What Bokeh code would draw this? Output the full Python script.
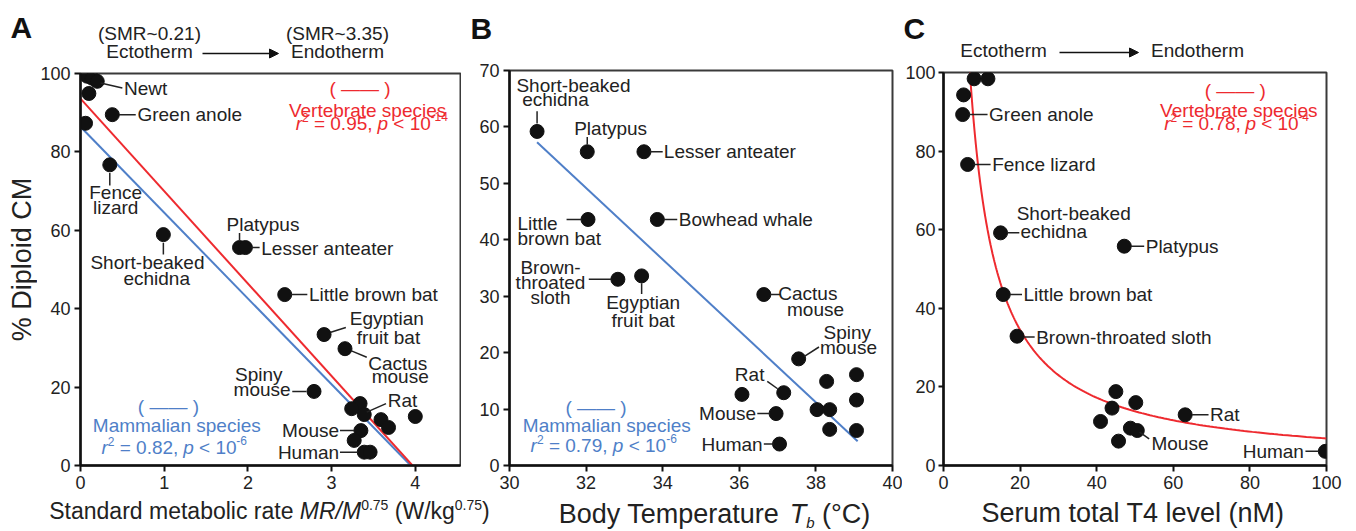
import math
import numpy as np
from bokeh.plotting import figure
from bokeh.models import Label, Arrow, NormalHead, FixedTicker, Range1d
from bokeh.layouts import row, column
from bokeh.embed import file_html
from bokeh.resources import INLINE

FONT = "Liberation Sans"
TXT = "#222222"
RED = "#ee2a2f"
BLUE = "#4f7fc8"

# ---------------- data ----------------
# Panel A: standard metabolic rate vs % diploid CM
smr = [0.08, 0.14, 0.20, 0.10, 0.06, 0.38, 0.35, 0.99, 1.90, 1.97, 2.44, 2.91,
       3.16, 2.79, 3.34, 3.24, 3.39, 3.59, 3.68, 4.00, 3.35, 3.27, 3.39, 3.46]
smr_pct = [99.3, 98.8, 98.0, 94.9, 87.3, 89.5, 76.7, 58.9, 55.6, 55.6, 43.6, 33.4,
           29.8, 18.9, 15.8, 14.5, 13.0, 11.7, 9.7, 12.5, 8.9, 6.4, 3.4, 3.4]
vert_smr_fit = (93.6, -23.6)   # intercept, slope
mamm_smr_fit = (86.4, -21.9)

# Panel B: body temperature vs % diploid CM
tb = [30.72, 32.03, 33.51, 32.05, 33.86, 32.83, 33.45, 36.64, 37.55, 37.16,
      36.07, 36.96, 37.05, 38.03, 38.36, 38.28, 38.36, 39.06, 39.06, 39.06]
tb_pct = [59.2, 55.6, 55.6, 43.6, 43.6, 33.0, 33.6, 30.3, 18.9, 12.9,
          12.6, 9.2, 3.8, 9.9, 9.9, 14.9, 6.4, 16.1, 11.6, 6.2]
mamm_tb_fit = (251.8, -6.332)
mamm_tb_span = (30.72, 39.09)

# Panel C: serum total T4 vs % diploid CM
t4 = [8.0, 11.6, 5.25, 5.0, 6.3, 14.9, 47.2, 15.6, 19.2, 45.0, 44.0, 50.2,
      41.0, 63.1, 48.8, 50.6, 45.7, 99.7]
t4_pct = [98.4, 98.4, 94.3, 89.3, 76.6, 59.2, 55.8, 43.5, 32.9, 18.8, 14.6, 16.0,
          11.2, 12.9, 9.5, 8.9, 6.2, 3.6]
vert_t4_fit = (690.0, -1.0)  # y = a * x^b

ticks_a_x = [0, 1, 2, 3, 4]
ticks_a_y = [0, 20, 40, 60, 80, 100]
ticks_b_x = [30, 32, 34, 36, 38, 40]
ticks_b_y = [0, 10, 20, 30, 40, 50, 60, 70]
ticks_c_x = [0, 20, 40, 60, 80, 100]
ticks_c_y = [0, 20, 40, 60, 80, 100]

# ---------------- text metrics (Arial / Liberation Sans) ----------------
W = {' ': 278, '%': 889, '(': 333, ')': 333, ',': 278, '-': 333, '.': 278, '/': 278,
     '<': 584, '=': 584, '~': 584, '°': 400, '—': 1000,
     'A': 667, 'B': 667, 'C': 722, 'D': 722, 'E': 667, 'F': 611, 'G': 778, 'H': 722,
     'I': 278, 'L': 556, 'M': 833, 'N': 722, 'P': 667, 'R': 722, 'S': 667, 'T': 611,
     'V': 667, 'W': 944,
     'a': 556, 'b': 556, 'c': 500, 'd': 556, 'e': 556, 'f': 278, 'g': 556, 'h': 556,
     'i': 222, 'j': 222, 'k': 500, 'l': 222, 'm': 833, 'n': 556, 'o': 556, 'p': 556,
     'q': 556, 'r': 333, 's': 500, 't': 278, 'u': 556, 'v': 500, 'w': 722, 'x': 500,
     'y': 500, 'z': 500}


def tw(s, size):
    return sum(W.get(ch, 556) for ch in s) * size / 1000.0


# ---------------- layout pieces ----------------
MID_B = 496
PAGE_W = 1356
PAGE_H = 531


class Strip:
    """A text-only figure whose data coordinates equal page pixels."""
    def __init__(self, x0, x1, y0, y1):
        self.fig = figure(width=x1 - x0, height=y1 - y0,
                          x_range=Range1d(x0, x1), y_range=Range1d(y1, y0),
                          output_backend="svg", toolbar_location=None,
                          x_axis_location=None, y_axis_location=None,
                          min_border_left=0, min_border_right=0,
                          min_border_top=0, min_border_bottom=0)
        self.fig.outline_line_color = None
        self.fig.grid.visible = False
        self.fig.background_fill_color = "white"
        self.fig.border_fill_color = "white"

    def to_data(self, px, py):
        return px, py


class Panel:
    def __init__(self, L, R, T, B, xr, yr, cl, cr, ct):
        self.L, self.R, self.T, self.B = L, R, T, B
        self.xr, self.yr = xr, yr
        self.fig = figure(width=cr - cl, height=MID_B - ct,
                          x_range=Range1d(*xr), y_range=Range1d(*yr),
                          output_backend="svg", toolbar_location=None,
                          min_border_left=L - cl, min_border_right=cr - R,
                          min_border_top=T - ct, min_border_bottom=MID_B - B)
        p = self.fig
        p.xgrid.visible = False
        p.ygrid.visible = False
        p.outline_line_color = "#3a3a3a"
        p.outline_line_width = 2
        p.background_fill_color = "white"
        p.border_fill_color = "white"
        for ax in (p.xaxis[0], p.yaxis[0]):
            ax.axis_line_width = 2.5
            ax.axis_line_color = "#111111"
            ax.major_tick_out = 6
            ax.major_tick_in = 0
            ax.minor_tick_out = 0
            ax.minor_tick_in = 0
            ax.major_tick_line_width = 2
            ax.major_tick_line_color = "#111111"
            ax.major_label_text_font = FONT
            ax.major_label_text_font_size = "18px"
            ax.major_label_text_color = TXT
            ax.major_label_standoff = 4

    def to_data(self, px, py):
        x0, x1 = self.xr
        y0, y1 = self.yr
        return (x0 + (px - self.L) / (self.R - self.L) * (x1 - x0),
                y0 + (self.B - py) / (self.B - self.T) * (y1 - y0))

    def to_page(self, x, y):
        x0, x1 = self.xr
        y0, y1 = self.yr
        return (self.L + (x - x0) / (x1 - x0) * (self.R - self.L),
                self.B - (y - y0) / (y1 - y0) * (self.B - self.T))


TOPA = Strip(0, 461, 0, 62)
TOPB = Strip(461, 902, 0, 56)
TOPC = Strip(902, PAGE_W, 0, 61)
YL = Strip(0, 37, 62, MID_B)
BOT = Strip(0, PAGE_W, MID_B, PAGE_H)
PA = Panel(78, 460, 73, 465, (0, 4.54), (0, 100), 37, 461, 62)
PB = Panel(509, 892, 70, 465, (30, 40), (0, 70), 461, 902, 56)
PC = Panel(939, 1326, 72, 465, (0, 100), (0, 100), 902, PAGE_W, 61)

PA.fig.xaxis.ticker = FixedTicker(ticks=ticks_a_x)
PA.fig.yaxis.ticker = FixedTicker(ticks=ticks_a_y)
PB.fig.xaxis.ticker = FixedTicker(ticks=ticks_b_x)
PB.fig.yaxis.ticker = FixedTicker(ticks=ticks_b_y)
PC.fig.xaxis.ticker = FixedTicker(ticks=ticks_c_x)
PC.fig.yaxis.ticker = FixedTicker(ticks=ticks_c_y)
PC.fig.yaxis.major_tick_out = 5
PC.fig.yaxis.major_label_standoff = 3


def label(target, px, py, text, size=19, align="left", color=TXT,
          style="normal", angle=0.0):
    x, y = target.to_data(px, py)
    target.fig.add_layout(Label(x=x, y=y, text=text, text_font=FONT,
                                text_font_size=f"{size}px", text_font_style=style,
                                text_color=color, text_align=align,
                                text_baseline="middle", angle=angle))


def rich(target, px, py, segs, align="center", color=TXT):
    """Mixed-style text; px,py in page pixels, py = vertical centre of the line."""
    widths = [tw(t, s) for (t, s, st, dy) in segs]
    total = sum(widths)
    cur = px - total / 2 if align == "center" else (px - total if align == "right" else px)
    for (t, s, st, dy), w in zip(segs, widths):
        lead = len(t) - len(t.lstrip(" "))
        txt = t.strip(" ")
        if txt:
            x, y = target.to_data(cur + tw(" " * lead, s), py)
            target.fig.add_layout(Label(x=x, y=y, text=txt, text_font=FONT,
                                        text_font_size=f"{s}px", text_font_style=st,
                                        text_color=color, text_align="left",
                                        text_baseline="middle", y_offset=dy))
        cur += w


def lab(pn, x, y, text, align="left", color=TXT, size=19):
    pn.fig.add_layout(Label(x=x, y=y, text=text, text_font=FONT,
                            text_font_size=f"{size}px", text_color=color,
                            text_align=align, text_baseline="middle"))


def stat_line(pn, x, y, r2, pexp, color):
    px, py = pn.to_page(x, y)
    segs = [("r", 19, "italic", 0), ("2", 12, "normal", 6),
            (f" = {r2}, ", 19, "normal", 0), ("p", 19, "italic", 0),
            (" < 10", 19, "normal", 0), (pexp, 12, "normal", 7)]
    rich(pn, px, py, segs, align="center", color=color)


def leaders(pn, segs):
    pn.fig.segment([s[0] for s in segs], [s[1] for s in segs],
                   [s[2] for s in segs], [s[3] for s in segs],
                   line_color=TXT, line_width=1.5)


def arrow(target, px0, px1, py):
    target.fig.add_layout(Arrow(end=NormalHead(size=9, fill_color="#111111",
                                               line_color="#111111", line_width=1),
                                x_start=px0, y_start=py, x_end=px1, y_end=py,
                                line_color="#111111", line_width=1.5))


# ---------------- Panel A ----------------
pa = PA.fig
for (a, b), col in ((mamm_smr_fit, BLUE), (vert_smr_fit, RED)):
    xe = -a / b
    pa.line([0, xe], [a, a + b * xe], line_color=col, line_width=2)
pa.scatter(smr, smr_pct, size=14, fill_color="#111111", line_color="#111111")
leaders(PA, [(0.24, 97.6, 0.50, 96.3), (0.46, 89.5, 0.66, 89.5),
             (0.35, 74.6, 0.35, 71.4), (0.99, 56.8, 0.99, 53.8),
             (1.90, 57.4, 1.90, 59.3), (2.04, 55.6, 2.14, 55.6),
             (2.51, 43.6, 2.71, 43.6), (2.99, 34.0, 3.17, 35.2),
             (3.23, 29.3, 3.42, 27.6), (2.53, 18.9, 2.70, 18.9),
             (3.42, 13.6, 3.65, 15.8), (3.10, 8.9, 3.27, 8.9),
             (3.10, 3.4, 3.31, 3.4)])
lab(PA, 0.52, 96.2, "Newt")
lab(PA, 0.68, 89.5, "Green anole")
lab(PA, 0.42, 69.6, "Fence", "center")
lab(PA, 0.42, 65.8, "lizard", "center")
lab(PA, 0.80, 51.8, "Short-beaked", "center")
lab(PA, 0.91, 47.7, "echidna", "center")
lab(PA, 2.18, 61.4, "Platypus", "center")
lab(PA, 2.16, 55.3, "Lesser anteater")
lab(PA, 2.73, 43.6, "Little brown bat")
lab(PA, 3.66, 37.5, "Egyptian", "center")
lab(PA, 3.68, 32.6, "fruit bat", "center")
lab(PA, 3.79, 26.1, "Cactus", "center")
lab(PA, 3.82, 22.7, "mouse", "center")
lab(PA, 2.13, 23.2, "Spiny", "center")
lab(PA, 2.51, 19.5, "mouse", "right")
lab(PA, 3.67, 16.6, "Rat")
lab(PA, 3.09, 8.9, "Mouse", "right")
lab(PA, 3.09, 3.3, "Human", "right")
lab(PA, 3.34, 96.2, "( —— )", "center", RED)
lab(PA, 3.43, 90.6, "Vertebrate species", "center", RED)
stat_line(PA, 3.48, 87.2, "0.95", "-14", RED)
lab(PA, 1.05, 15.1, "( —— )", "center", BLUE)
lab(PA, 1.15, 10.2, "Mammalian species", "center", BLUE)
stat_line(PA, 1.12, 4.7, "0.82", "-6", BLUE)

# ---------------- Panel B ----------------
pb = PB.fig
ta, tb_s = mamm_tb_fit
xs_b = list(mamm_tb_span)
pb.line(xs_b, [ta + tb_s * v for v in xs_b], line_color=BLUE, line_width=2)
pb.scatter(tb, tb_pct, size=14, fill_color="#111111", line_color="#111111")
leaders(PB, [(30.72, 60.6, 30.72, 62.8), (32.03, 56.9, 32.03, 58.2),
             (33.66, 55.6, 34.0, 55.6), (31.49, 43.6, 31.88, 43.6),
             (34.02, 43.6, 34.38, 43.6), (32.07, 33.0, 32.66, 33.0),
             (33.45, 30.4, 33.45, 32.3), (36.8, 30.3, 37.08, 30.3),
             (37.69, 19.3, 38.08, 21.0), (36.73, 14.9, 37.0, 13.6),
             (36.47, 9.2, 36.8, 9.2), (36.64, 3.8, 36.9, 3.8)])
lab(PB, 31.67, 67.3, "Short-beaked", "center")
lab(PB, 31.20, 64.8, "echidna", "center")
lab(PB, 32.64, 59.8, "Platypus", "center")
lab(PB, 34.03, 55.6, "Lesser anteater")
lab(PB, 30.21, 42.9, "Little")
lab(PB, 30.21, 40.2, "brown bat")
lab(PB, 34.42, 43.6, "Bowhead whale")
lab(PB, 31.07, 35.1, "Brown-", "center")
lab(PB, 31.07, 32.4, "throated", "center")
lab(PB, 31.07, 29.7, "sloth", "center")
lab(PB, 33.49, 28.8, "Egyptian", "center")
lab(PB, 33.49, 25.7, "fruit bat", "center")
lab(PB, 37.79, 30.4, "Cactus", "center")
lab(PB, 37.99, 27.6, "mouse", "center")
lab(PB, 38.82, 23.5, "Spiny", "center")
lab(PB, 38.85, 20.9, "mouse", "center")
lab(PB, 36.27, 16.1, "Rat", "center")
lab(PB, 36.44, 9.2, "Mouse", "right")
lab(PB, 36.61, 3.8, "Human", "right")
lab(PB, 32.26, 10.3, "( —— )", "center", BLUE)
lab(PB, 32.54, 7.1, "Mammalian species", "center", BLUE)
stat_line(PB, 32.46, 3.5, "0.79", "-6", BLUE)

# ---------------- Panel C ----------------
pc = PC.fig
ca, cb = vert_t4_fit
x_start = (100.0 / ca) ** (1.0 / cb)
xs_c = np.geomspace(x_start, 100, 200)
pc.line(xs_c, ca * xs_c ** cb, line_color=RED, line_width=2)
pc.scatter(t4, t4_pct, size=14, fill_color="#111111", line_color="#111111")
leaders(PC, [(6.6, 89.3, 11.5, 89.3), (7.8, 76.6, 12.3, 76.6),
             (16.7, 59.2, 19.8, 59.2), (48.9, 55.8, 52.4, 55.8),
             (17.3, 43.5, 20.5, 43.5), (21.0, 32.7, 23.8, 32.7),
             (64.9, 12.9, 69.2, 12.9), (51.2, 8.5, 53.7, 6.8),
             (94.5, 3.6, 97.9, 3.6)])
lab(PC, 11.9, 89.3, "Green anole")
lab(PC, 12.7, 76.6, "Fence lizard")
lab(PC, 19.1, 64.0, "Short-beaked")
lab(PC, 20.1, 59.5, "echidna")
lab(PC, 52.8, 55.8, "Platypus")
lab(PC, 20.9, 43.5, "Little brown bat")
lab(PC, 24.2, 32.5, "Brown-throated sloth")
lab(PC, 69.6, 12.9, "Rat")
lab(PC, 54.3, 5.5, "Mouse")
lab(PC, 94.1, 3.6, "Human", "right")
lab(PC, 76.2, 95.4, "( —— )", "center", RED)
lab(PC, 77.1, 90.3, "Vertebrate species", "center", RED)
stat_line(PC, 76.5, 86.9, "0.78", "-4", RED)

# ---------------- texts outside the frames ----------------
label(TOPA, 10, 27, "A", size=30, style="bold", color="#111111")
label(TOPB, 470, 28, "B", size=30, style="bold", color="#111111")
label(TOPC, 903, 28, "C", size=30, style="bold", color="#111111")
label(TOPA, 149, 33, "(SMR~0.21)", align="center")
label(TOPA, 149, 51, "Ectotherm", align="center")
label(TOPA, 337, 33, "(SMR~3.35)", align="center")
label(TOPA, 337, 51, "Endotherm", align="center")
arrow(TOPA, 202, 278, 53)
label(TOPC, 1003, 50, "Ectotherm", align="center")
label(TOPC, 1197, 50, "Endotherm", align="center")
arrow(TOPC, 1059, 1138, 52)

# y-axis title of panel A
label(YL, 21.5, 268, "% Diploid CM", size=27, align="center", angle=math.pi / 2)

# x-axis titles
rich(BOT, (PA.L + PA.R) / 2, 510,
     [("Standard metabolic rate ", 23, "normal", 0), ("MR/M", 23, "italic", 0),
      ("0.75", 14, "normal", 6), (" (W/kg", 23, "normal", 0),
      ("0.75", 14, "normal", 6), (")", 23, "normal", 0)])
rich(BOT, 714, 513,
     [("Body Temperature ", 27, "normal", 0), ("T", 27, "italic", 0),
      ("b", 15, "italic", -9), (" (°C)", 27, "normal", 0)])
rich(BOT, (PC.L + PC.R) / 2, 512, [("Serum total T4 level (nM)", 27, "normal", 0)])

# wrapping each plot in its own row keeps the strips' frames from being
# aligned with the panels' frames
layout = column(
    row(column(TOPA.fig, row(YL.fig, PA.fig, spacing=0), spacing=0),
        column(TOPB.fig, row(PB.fig, spacing=0), spacing=0),
        column(TOPC.fig, row(PC.fig, spacing=0), spacing=0), spacing=0),
    BOT.fig, spacing=0)
open("out.html", "w").write(file_html(layout, INLINE))
